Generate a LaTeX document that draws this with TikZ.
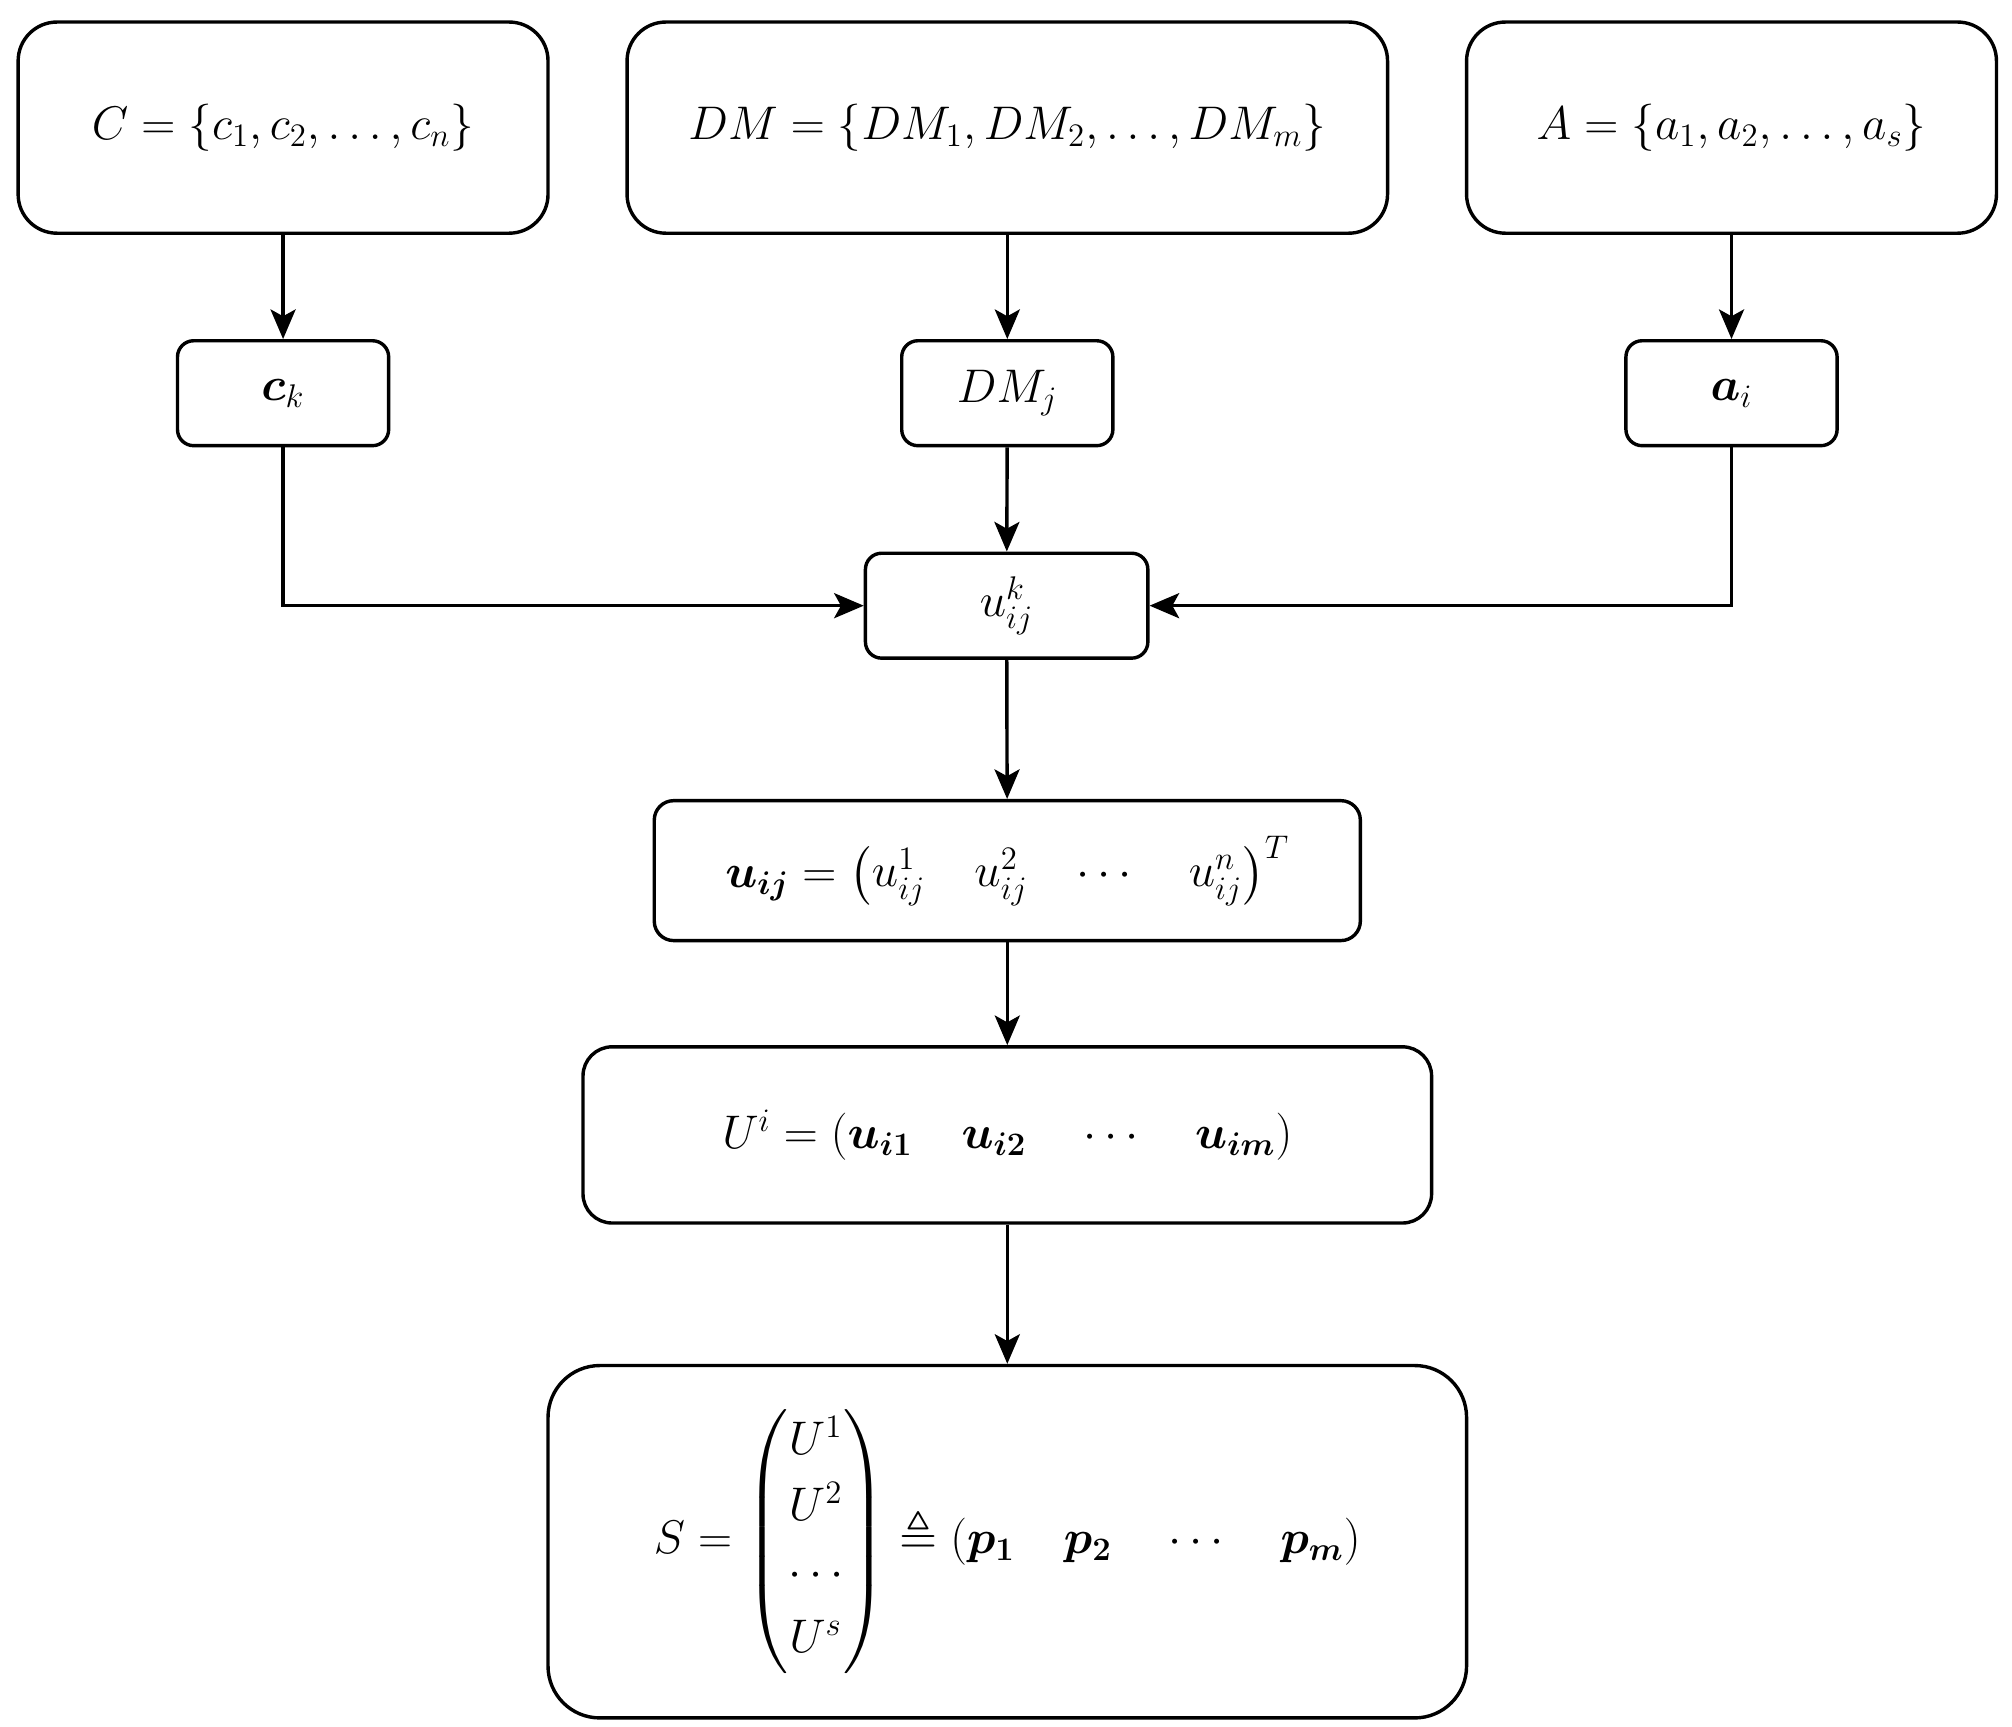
\documentclass[tikz,border=0pt]{standalone}
\usepackage{amsmath,amssymb,bm}
\usetikzlibrary{arrows.meta}
\begin{document}
\begin{tikzpicture}[x=0.02cm,y=-0.02cm,
  box/.style={draw,line width=1.5pt,rounded corners=#1,inner sep=0pt,font=\fontsize{21.5}{26}\selectfont},
  box/.default=0.6cm,
  arr/.style={line width=1.5pt,-{Stealth[length=13pt,width=11pt,inset=3pt]}}]
\useasboundingbox (0,0) rectangle (1553,1333);
\newcommand\bx[7]{\node[box=#6,minimum width={(#3-#2)*0.02cm},minimum height={(#5-#4)*0.02cm}] (#1) at ({(#2+#3)/2},{(#4+#5)/2}) {#7};}
\bx{C}{14}{423}{17}{180}{0.6cm}{$C=\{c_1,c_2,\ldots,c_n\}$}
\bx{DM}{484}{1071}{17}{180}{0.6cm}{$DM=\{DM_1,DM_2,\ldots,DM_m\}$}
\bx{A}{1132}{1541}{17}{180}{0.6cm}{$A=\{a_1,a_2,\ldots,a_s\}$}
\bx{ck}{137}{300}{263}{344}{0.25cm}{$\bm{c}_k$}
\bx{DMj}{696}{859}{263}{344}{0.25cm}{$DM_j$}
\bx{ai}{1255}{1418}{263}{344}{0.25cm}{$\bm{a}_i$}
\bx{uk}{668}{886}{427}{508}{0.25cm}{$u_{ij}^k$}
\bx{uij}{505}{1050}{618}{726}{0.3cm}{$\bm{u_{ij}}=\begin{pmatrix}u_{ij}^1 & \;\; u_{ij}^2 & \;\;\cdots & \;\; u_{ij}^n\end{pmatrix}^T$}
\bx{Ui}{450}{1105}{808}{944}{0.45cm}{$U^i=(\bm{u_{i1}}\quad \bm{u_{i2}}\quad \cdots\quad \bm{u_{im}})$}
\bx{S}{423}{1132}{1054}{1326}{0.8cm}{$S=\begin{pmatrix}U^1\\[3pt]U^2\\[3pt]\cdots\\[3pt]U^s\end{pmatrix}\triangleq(\bm{p_1}\quad \bm{p_2}\quad \cdots\quad \bm{p_m})$}
\draw[arr] (C) -- (ck);
\draw[arr] (DM) -- (DMj);
\draw[arr] (A) -- (ai);
\draw[arr] (DMj) -- (uk);
\draw[arr] (ck) |- (uk);
\draw[arr] (ai) |- (uk);
\draw[arr] (uk) -- (uij);
\draw[arr] (uij) -- (Ui);
\draw[arr] (Ui) -- (S);
\end{tikzpicture}
\end{document}
